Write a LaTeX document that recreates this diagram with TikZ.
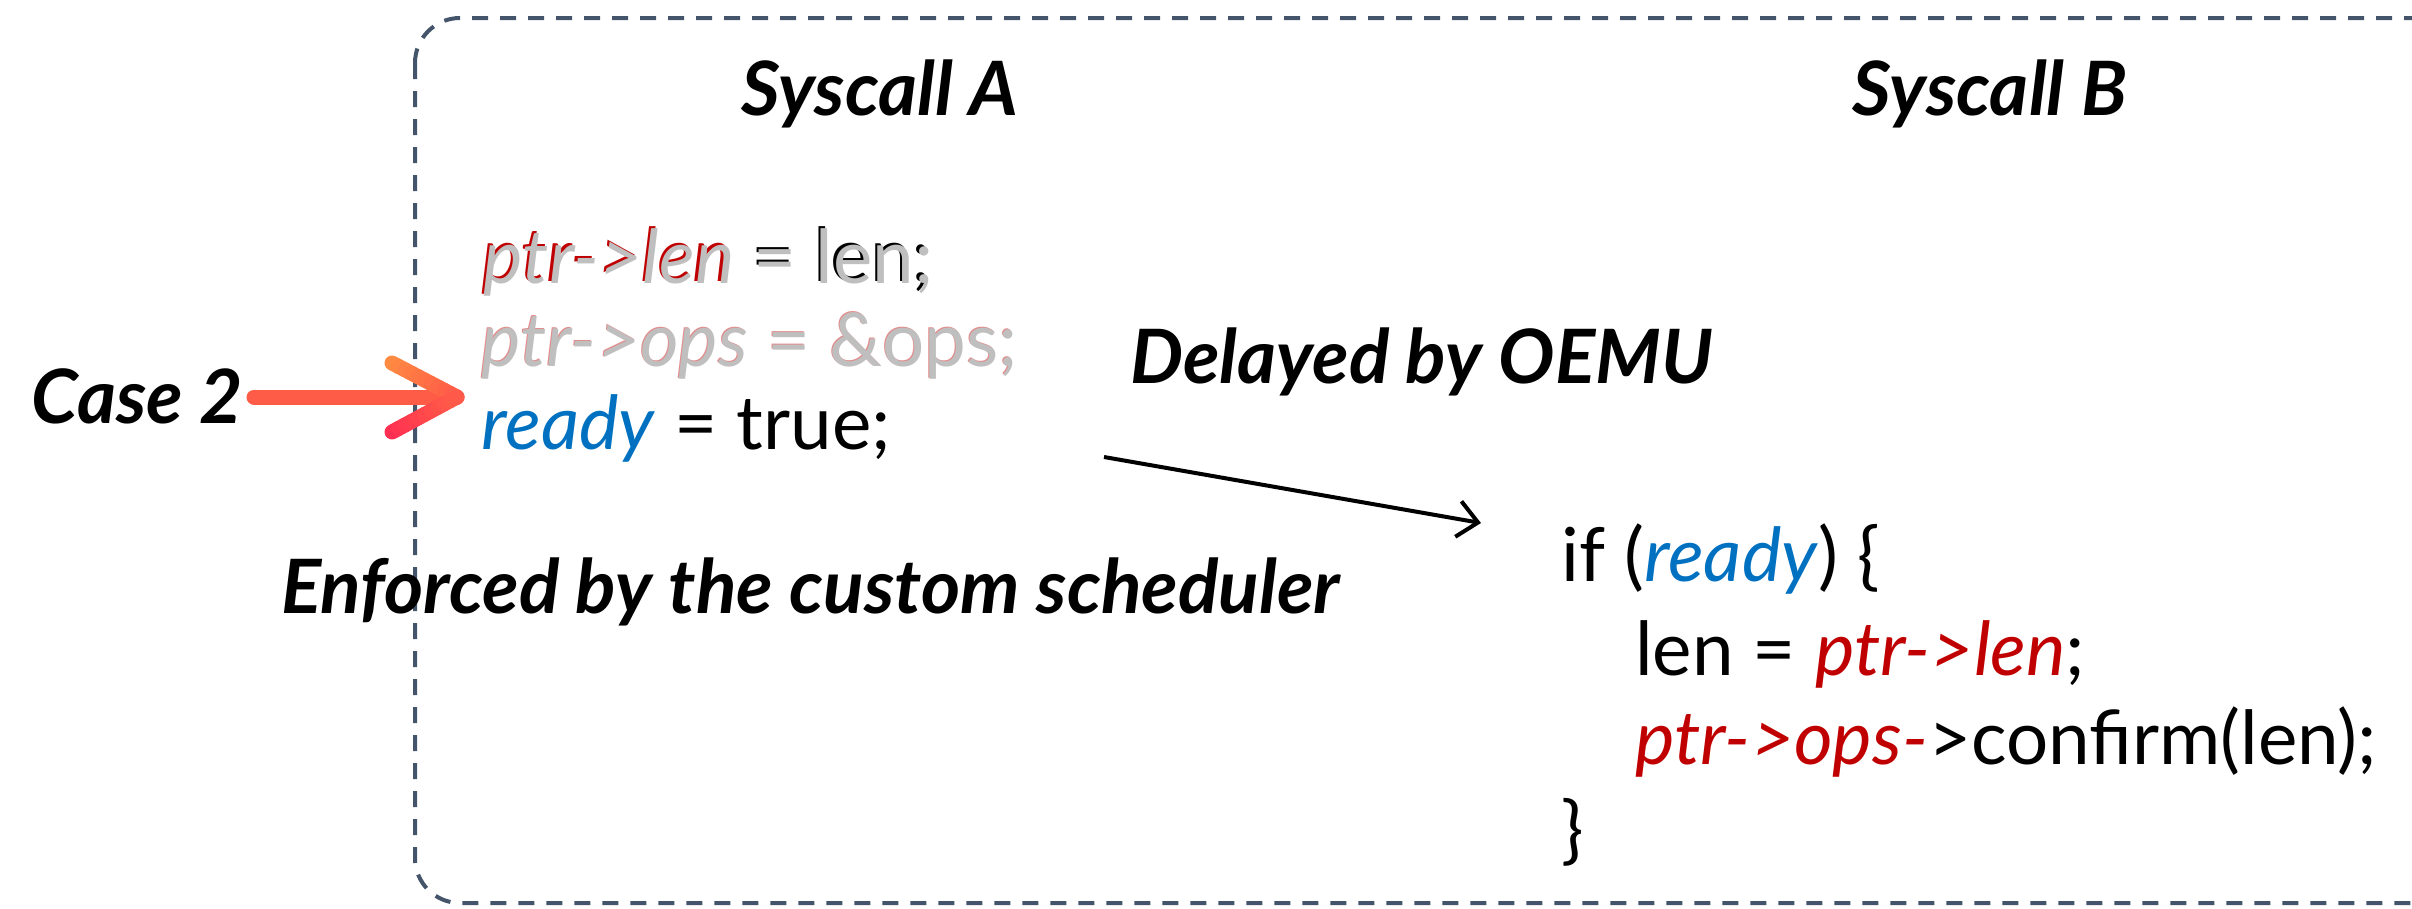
\documentclass[tikz,border=0pt]{standalone}
\usepackage{fontspec}
\setmainfont{Lato}
\usetikzlibrary{calc,arrows.meta}
\definecolor{boxc}{HTML}{44546A}
\definecolor{cred}{HTML}{C00000}
\definecolor{cblue}{HTML}{0070C0}
\definecolor{ghost}{HTML}{BFBFBF}
\definecolor{ctop}{HTML}{FF8C42}
\definecolor{cmid}{HTML}{FF5C48}
\definecolor{cbot}{HTML}{FF2D52}
\newcommand\codesize{\fontsize{74.5}{90}\selectfont}
\newcommand\hdsize{\fontsize{75}{90}\selectfont\bfseries\itshape}
\begin{document}
\begin{tikzpicture}[x=1pt,y=-1pt,
  code/.style={inner sep=0pt, anchor=base west, font=\codesize},
  hd/.style={inner sep=0pt, font=\hdsize},
  redarrow/.style={line width=15pt, line cap=round}]
\useasboundingbox (0,0) rectangle (2412,908);
% dashed frame
\draw[boxc, line width=4pt, dash pattern=on 16pt off 12pt, rounded corners=45pt]
  (415,18) rectangle (2460,903);
% headings
\node[hd, anchor=base] (sa) at (880,115) {Syscall A};
\node[hd, anchor=base] (sb) at (1990,115) {Syscall B};
% Syscall A code
\node[code] (l1c) at (481,281) {\textcolor{cred}{\textit{ptr->len}} = len;};
\node[code, text=ghost] (l1) at (483.5,283.5) {\textit{ptr->len} = len;};
\node[code, text=cred!45] (l2c) at (480,365) {\textit{ptr->ops} = \&ops;};
\node[code, text=ghost] (l2) at (481,366) {\textit{ptr->ops} = \&ops;};
\node[code] (l3) at (481,449) {\textcolor{cblue}{\textit{ready}} = true;};
% labels
\node[hd, anchor=base west] (case) at (31,423) {Case 2};
\node[hd, anchor=base west] (delay) at (1130,383) {Delayed by OEMU};
\node[hd, anchor=base west] (enf) at (281,613) {Enforced by the custom scheduler};
% Syscall B code
\node[code] (b1) at (1561,581) {if (\textcolor{cblue}{\textit{ready}}) \{};
\node[code] (b2) at (1635,675) {len = \textcolor{cred}{\textit{ptr->len}};};
\node[code] (b3) at (1635,764) {\textcolor{cred}{\textit{ptr->ops-}}>confirm(len);};
\node[code] (b4) at (1561,855) {\}};
% red gradient arrow
\coordinate (rs) at (254,397);
\coordinate (rt) at (457,397);
\coordinate (ru) at (392,363);
\coordinate (rl) at (392,432);
\draw[redarrow, cmid] (rs) -- (rt);
\foreach \i in {0,...,9}{
  \pgfmathsetmacro{\ta}{\i/10}
  \pgfmathsetmacro{\tb}{(\i+1)/10}
  \pgfmathtruncatemacro{\pc}{100*(\i+0.5)/10}
  \draw[redarrow, color=cmid!\pc!ctop] ($(ru)!\ta!(rt)$) -- ($(ru)!\tb!(rt)$);
  \draw[redarrow, color=cmid!\pc!cbot] ($(rl)!\ta!(rt)$) -- ($(rl)!\tb!(rt)$);
}
% black arrow
\coordinate (as) at (1104,457);
\coordinate (ae) at (1481,523);
\draw[line width=4pt, -{Straight Barb[length=20pt,width=36pt]}] (as) -- (ae);
\end{tikzpicture}
\end{document}
